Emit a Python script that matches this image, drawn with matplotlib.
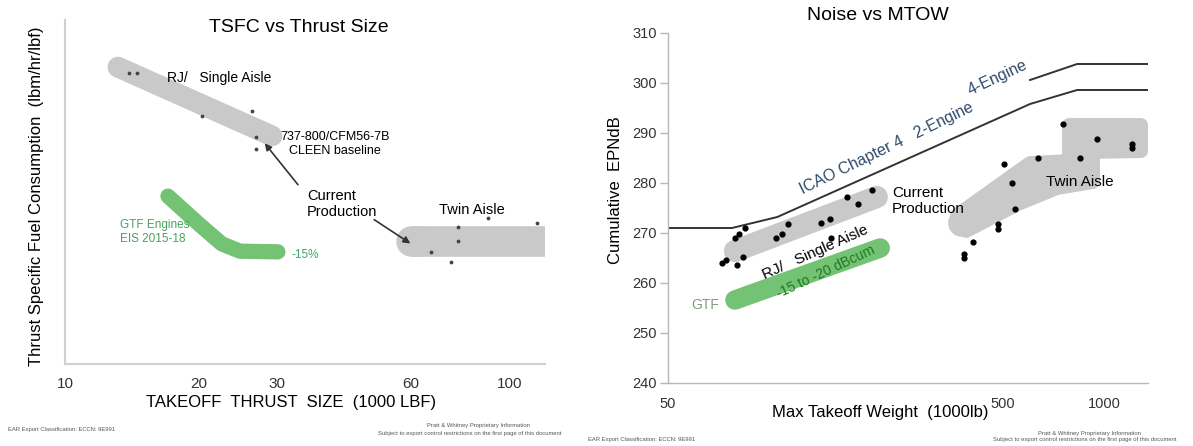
import numpy as np
import matplotlib
matplotlib.use('Agg')
import matplotlib.pyplot as plt
from matplotlib.patches import Polygon

plt.rcParams['font.family'] = ['Liberation Sans', 'DejaVu Sans']

# ------------------------------------------------------------
# Left chart: TSFC vs thrust size (y is unitless, 0-100 scale)
# ------------------------------------------------------------
tsfc_xticks = [10, 20, 30, 60, 100]

rj_band_x = [13.15, 29.2]
rj_band_y = [86.3, 66.3]
rj_pts_x = [13.93, 14.51, 20.32, 26.32, 26.87, 26.87]
rj_pts_y = [84.6, 84.6, 72.1, 73.5, 66.0, 62.5]

twin_band_x = [59.9, 120.0]
twin_band_y = [35.8, 35.8]
twin_pts_x = [66.4, 76.4, 76.4, 73.7, 89.3, 115.0]
twin_pts_y = [32.6, 39.8, 35.8, 29.7, 42.4, 41.0]

gtf_band_x = [17.04, 20.11, 22.53, 24.74, 30.1]
gtf_band_y = [48.8, 40.4, 34.9, 32.8, 32.6]

baseline_pt = (27.86, 64.8)
twin_current_pt = (60.5, 34.6)

# ------------------------------------------------------------
# Right chart: noise vs MTOW
# ------------------------------------------------------------
noise_yticks = [240, 250, 260, 270, 280, 290, 300, 310]
noise_xticks = [50, 500, 1000]

icao2_x = [50, 77.6, 106, 602, 832, 1354]
icao2_y = [271.0, 271.0, 273.2, 295.8, 298.6, 298.6]
icao4_x = [602, 832, 1354]
icao4_y = [300.6, 303.8, 303.8]

sa_band_x = [79.2, 210]
sa_band_y = [266.4, 277.2]
gtf_noise_x = [79.2, 215]
gtf_noise_y = [256.6, 267.0]

sa_pts_x = [72.5, 74.5, 80.3, 83.7, 79.2, 81.4, 84.9, 105, 109.5, 114,
            143, 152, 153, 171, 185, 203]
sa_pts_y = [264.0, 264.6, 263.6, 265.2, 269.0, 269.8, 271.0, 269.0, 269.8,
            271.8, 272.0, 272.8, 269.0, 277.2, 275.8, 278.6]

ta_outline_x = [364.5, 602, 787, 787, 1291, 1291, 928, 928, 725, 554, 388]
ta_outline_y = [273.6, 284.0, 284.4, 291.6, 291.6, 286.4, 286.2, 280.2,
                279.0, 275.8, 270.4]
ta_end_x = [377, 457]
ta_end_y = [272.0, 275.0]

ta_pts_x = [755, 954, 1214, 1214, 636, 849, 504, 532, 543, 483, 483, 407,
            382, 382]
ta_pts_y = [291.8, 288.8, 287.8, 287.0, 285.0, 285.0, 283.8, 280.0, 274.8,
            271.8, 270.8, 268.2, 265.8, 265.0]

GRAY = '#c9c9c9'
GREEN = '#74c274'
W, H = 1193, 446


def fx(p):
    return p / W


def fy(p):
    return 1 - p / H


fig = plt.figure(figsize=(W / 100, H / 100), dpi=100)
fig.patch.set_facecolor('white')

# ---------------- left panel ----------------
ax1 = fig.add_axes([fx(65), fy(364), 480 / W, 344 / H])
ax1.set_xscale('log')
ax1.set_xlim(10, 120)
ax1.set_ylim(0, 100)
for s in ['top', 'right']:
    ax1.spines[s].set_visible(False)
for s in ['left', 'bottom']:
    ax1.spines[s].set_color('#d0d0d0')
    ax1.spines[s].set_linewidth(1.5)
ax1.set_xticks(tsfc_xticks)
ax1.set_xticklabels([str(t) for t in tsfc_xticks])
ax1.xaxis.set_minor_locator(matplotlib.ticker.NullLocator())
ax1.set_yticks([])
ax1.tick_params(axis='x', length=0, pad=9, labelsize=11, colors='#333333')

ax1.plot(rj_band_x, rj_band_y, color=GRAY, lw=15, solid_capstyle='round', zorder=1)
ax1.plot(twin_band_x, twin_band_y, color=GRAY, lw=22, solid_capstyle='butt', zorder=1)
ax1.plot([twin_band_x[0], twin_band_x[0] * 1.05], twin_band_y, color=GRAY, lw=22,
         solid_capstyle='round', zorder=1)
ax1.plot(gtf_band_x, gtf_band_y, color=GREEN, lw=11, solid_capstyle='round',
         solid_joinstyle='round', zorder=1)
ax1.scatter(rj_pts_x, rj_pts_y, s=3, color='#444444', zorder=3)
ax1.scatter(twin_pts_x, twin_pts_y, s=3, color='#444444', zorder=3)

ax1.annotate('', xy=baseline_pt, xytext=(33.7, 51.5),
             arrowprops=dict(arrowstyle='-|>', color='#333333', lw=1.2,
                             mutation_scale=10))
ax1.annotate('', xy=twin_current_pt, xytext=(48.97, 42.4),
             arrowprops=dict(arrowstyle='-|>', color='#333333', lw=1.2,
                             mutation_scale=10))

fig.text(fx(299), fy(27), 'TSFC vs Thrust Size', ha='center', va='center', fontsize=14)
fig.text(fx(167), fy(78), 'RJ/   Single Aisle', ha='left', va='center', fontsize=10)
fig.text(fx(335), fy(144), '737-800/CFM56-7B\nCLEEN baseline', ha='center',
         va='center', fontsize=9, linespacing=1.25)
fig.text(fx(307), fy(204), 'Current\nProduction', ha='left', va='center',
         fontsize=10.5, linespacing=1.15)
fig.text(fx(472), fy(210), 'Twin Aisle', ha='center', va='center', fontsize=10.5)
fig.text(fx(120), fy(232), 'GTF Engines\nEIS 2015-18', ha='left', va='center',
         fontsize=8.5, color='#45a35a', linespacing=1.3)
fig.text(fx(292), fy(255), '-15%', ha='left', va='center', fontsize=8.5, color='#3fa66b')
fig.text(fx(291), fy(402), 'TAKEOFF  THRUST  SIZE  (1000 LBF)', ha='center',
         va='center', fontsize=12)
fig.text(fx(37), fy(196), 'Thrust Specific Fuel Consumption  (lbm/hr/lbf)',
         ha='center', va='center', rotation=90, fontsize=12)

# ---------------- right panel ----------------
ax2 = fig.add_axes([fx(668), fy(383), 480 / W, 350 / H])
ax2.set_xscale('log')
ax2.set_xlim(50, 1354)
ax2.set_ylim(240, 310)
for s in ['top', 'right']:
    ax2.spines[s].set_visible(False)
for s in ['left', 'bottom']:
    ax2.spines[s].set_color('#b8b8b8')
    ax2.spines[s].set_linewidth(1.0)
ax2.set_yticks(noise_yticks)
ax2.set_xticks(noise_xticks)
ax2.set_xticklabels([str(t) for t in noise_xticks])
ax2.xaxis.set_minor_locator(matplotlib.ticker.NullLocator())
ax2.tick_params(axis='y', length=6, width=1, color='#b8b8b8', pad=2,
                labelsize=10.5, labelcolor='#333333')
ax2.tick_params(axis='x', length=0, pad=10, labelsize=10.5, labelcolor='#333333')

ax2.plot(icao2_x, icao2_y, color='#333333', lw=1.4, zorder=2)
ax2.plot(icao4_x, icao4_y, color='#333333', lw=1.4, zorder=2)
ax2.plot(sa_band_x, sa_band_y, color=GRAY, lw=16, solid_capstyle='round', zorder=1)
ax2.plot(gtf_noise_x, gtf_noise_y, color=GREEN, lw=14, solid_capstyle='round', zorder=1)
ax2.add_patch(Polygon(np.column_stack([ta_outline_x, ta_outline_y]), closed=True,
                      facecolor=GRAY, edgecolor=GRAY, lw=10, joinstyle='round',
                      zorder=1))
ax2.plot(ta_end_x, ta_end_y, color=GRAY, lw=20, solid_capstyle='round', zorder=1)
ax2.scatter(sa_pts_x, sa_pts_y, s=12, color='black', zorder=3)
ax2.scatter(ta_pts_x, ta_pts_y, s=12, color='black', zorder=3)

fig.text(fx(878), fy(16), 'Noise vs MTOW', ha='center', va='center', fontsize=14)
fig.text(fx(616), fy(190), 'Cumulative  EPNdB', ha='center', va='center',
         rotation=90, fontsize=12)
fig.text(fx(880), fy(412), 'Max Takeoff Weight  (1000lb)', ha='center',
         va='center', fontsize=12)
fig.text(fx(892), fy(201), 'Current\nProduction', ha='left', va='center',
         fontsize=11, linespacing=1.15)
fig.text(fx(1080), fy(182), 'Twin Aisle', ha='center', va='center', fontsize=11)
fig.text(fx(887), fy(148), 'ICAO Chapter 4   2-Engine', ha='center', va='center',
         rotation=26, fontsize=11.5, color='#2f4a6a', rotation_mode='anchor')
fig.text(fx(998), fy(78), '4-Engine', ha='center', va='center', rotation=25,
         fontsize=11.5, color='#2f4a6a', rotation_mode='anchor')
fig.text(fx(815), fy(252), 'RJ/   Single Aisle', ha='center', va='center',
         rotation=24, fontsize=11, rotation_mode='anchor')
fig.text(fx(826), fy(272), '-15 to -20 dBcum', ha='center', va='center',
         rotation=25, fontsize=10, color='#1e7a1e', rotation_mode='anchor')
fig.text(fx(705), fy(305), 'GTF', ha='center', va='center', fontsize=10,
         color='#7d9c7d')

# ---------------- footers ----------------
foot = dict(fontsize=4.2, color='#555555', va='center')
fig.text(fx(8), fy(430), 'EAR Export Classification: ECCN: 9E991', ha='left', **foot)
fig.text(fx(478), fy(426), 'Pratt & Whitney Proprietary Information', ha='center', **foot)
fig.text(fx(470), fy(433),
         'Subject to export control restrictions on the first page of this document',
         ha='center', **foot)
fig.text(fx(588), fy(440), 'EAR Export Classification: ECCN: 9E991', ha='left', **foot)
fig.text(fx(1089), fy(434), 'Pratt & Whitney Proprietary Information', ha='center', **foot)
fig.text(fx(1085), fy(440),
         'Subject to export control restrictions on the first page of this document',
         ha='center', **foot)

fig.savefig('out.png', dpi=100, facecolor='white')
